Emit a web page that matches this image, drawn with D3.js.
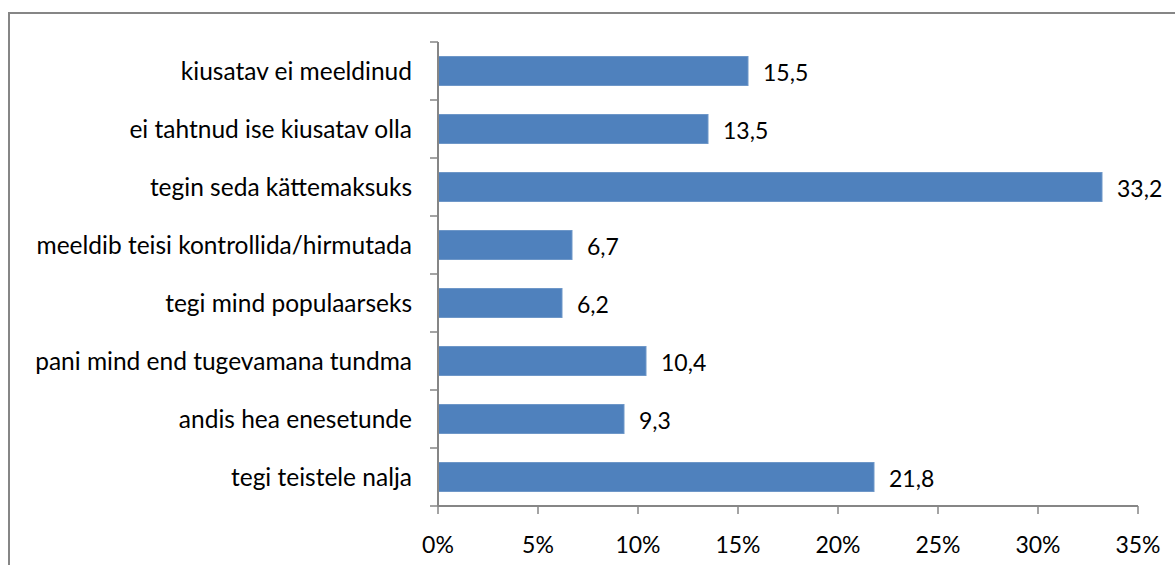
<!DOCTYPE html>
<html>
<head>
<meta charset="utf-8">
<script src="https://d3js.org/d3.v7.min.js"></script>
<style>
  body { margin: 0; background: #fff; }
  svg text { font-family: Lato, "Open Sans", sans-serif; fill: #000; }
</style>
</head>
<body>
<div id="chart"></div>
<script>
// categories top to bottom, values in percent
var categories = [
  "kiusatav ei meeldinud",
  "ei tahtnud ise kiusatav olla",
  "tegin seda kättemaksuks",
  "meeldib teisi kontrollida/hirmutada",
  "tegi mind populaarseks",
  "pani mind end tugevamana tundma",
  "andis hea enesetunde",
  "tegi teistele nalja"
];
var values = [15.5, 13.5, 33.2, 6.7, 6.2, 10.4, 9.3, 21.8];
var xTicks = [0, 5, 10, 15, 20, 25, 30, 35];

var width = 1175, height = 565;
var plotLeft = 438, plotRight = 1138, plotTop = 42, plotBottom = 506;
var labelSize = "24.5px", numSize = "23px";

var svg = d3.select("#chart").append("svg")
    .attr("width", width)
    .attr("height", height);

// outer chart frame (runs off the right and bottom edge)
svg.append("rect")
    .attr("x", 9).attr("y", 13)
    .attr("width", 1200).attr("height", 600)
    .attr("fill", "none")
    .attr("stroke", "#868686")
    .attr("stroke-width", 2);

var x = d3.scaleLinear().domain([0, 35]).range([plotLeft, plotRight]);
var y = d3.scaleBand().domain(categories).range([plotTop, plotBottom]).paddingInner(0.5).paddingOuter(0.25);

// bars
svg.selectAll("rect.bar")
    .data(values)
    .enter().append("rect")
    .attr("class", "bar")
    .attr("x", x(0))
    .attr("y", function(d, i) { return y(categories[i]); })
    .attr("width", function(d) { return x(d) - x(0); })
    .attr("height", y.bandwidth())
    .attr("fill", "#4F81BD")
    .attr("stroke", "#6E97C8")
    .attr("stroke-width", 1);

// value labels
svg.selectAll("text.val")
    .data(values)
    .enter().append("text")
    .attr("class", "val")
    .attr("x", function(d) { return x(d) + 15; })
    .attr("y", function(d, i) { return y(categories[i]) + y.bandwidth() / 2 + 2; })
    .attr("dy", "0.35em")
    .style("font-size", numSize)
    .text(function(d) { return d.toFixed(1).replace(".", ","); });

// y axis
var yAxis = svg.append("g");
yAxis.append("line")
    .attr("x1", plotLeft).attr("x2", plotLeft)
    .attr("y1", plotTop).attr("y2", plotBottom)
    .attr("stroke", "#868686").attr("stroke-width", 2);
var step = (plotBottom - plotTop) / categories.length;
yAxis.selectAll("line.tick")
    .data(d3.range(categories.length + 1))
    .enter().append("line")
    .attr("x1", plotLeft - 8).attr("x2", plotLeft)
    .attr("y1", function(i) { return plotTop + i * step; })
    .attr("y2", function(i) { return plotTop + i * step; })
    .attr("stroke", "#868686").attr("stroke-width", 1.5);
yAxis.selectAll("text")
    .data(categories)
    .enter().append("text")
    .attr("x", plotLeft - 26)
    .attr("y", function(d) { return y(d) + y.bandwidth() / 2; })
    .attr("dy", "0.35em")
    .attr("text-anchor", "end")
    .style("font-size", labelSize)
    .text(function(d) { return d; });

// x axis
var xAxis = svg.append("g");
xAxis.append("line")
    .attr("x1", plotLeft).attr("x2", plotRight)
    .attr("y1", plotBottom).attr("y2", plotBottom)
    .attr("stroke", "#868686").attr("stroke-width", 2);
xAxis.selectAll("line.tick")
    .data(xTicks)
    .enter().append("line")
    .attr("x1", function(d) { return x(d); })
    .attr("x2", function(d) { return x(d); })
    .attr("y1", plotBottom).attr("y2", plotBottom + 8)
    .attr("stroke", "#868686").attr("stroke-width", 1.5);
xAxis.selectAll("text")
    .data(xTicks)
    .enter().append("text")
    .attr("x", function(d) { return x(d); })
    .attr("y", 545)
    .attr("dy", "0.35em")
    .attr("text-anchor", "middle")
    .style("font-size", numSize)
    .text(function(d) { return d + "%"; });
</script>
</body>
</html>
